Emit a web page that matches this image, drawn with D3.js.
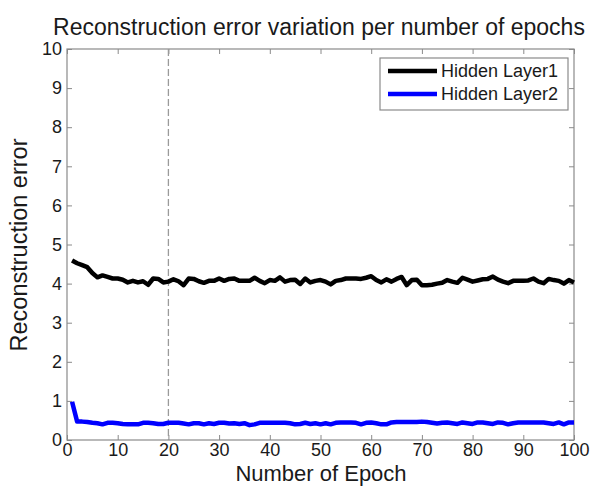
<!DOCTYPE html>
<html>
<head>
<meta charset="utf-8">
<script src="https://cdn.jsdelivr.net/npm/d3@7"></script>
<style>
  body { margin: 0; background: #fff; }
  text { font-family: "Liberation Sans", Arial, sans-serif; fill: #1a1a1a; }
</style>
</head>
<body>
<div class="graphContainer"></div>
<script>
// size of the page and the plot box
const w = 591;
const h = 486;
const m = {top: 49, right: 17, bottom: 46, left: 67};

// data
const epochs = d3.range(1, 101);
const layer1 = [
  4.59, 4.52, 4.47, 4.42, 4.27, 4.16, 4.21, 4.17, 4.13, 4.13,
  4.10, 4.03, 4.07, 4.03, 4.06, 3.97, 4.13, 4.12, 4.03, 4.05,
  4.11, 4.06, 3.96, 4.13, 4.12, 4.06, 4.02, 4.07, 4.07, 4.13,
  4.07, 4.12, 4.13, 4.07, 4.07, 4.07, 4.15, 4.07, 4.01, 4.09,
  4.07, 4.16, 4.05, 4.09, 4.10, 3.99, 4.13, 4.03, 4.07, 4.09,
  4.05, 3.98, 4.07, 4.09, 4.13, 4.13, 4.13, 4.12, 4.15, 4.19,
  4.09, 4.03, 4.11, 4.05, 4.12, 4.17, 3.96, 4.09, 4.10, 3.96,
  3.96, 3.97, 4.00, 4.02, 4.09, 4.05, 4.02, 4.15, 4.10, 4.05,
  4.08, 4.11, 4.12, 4.18, 4.10, 4.05, 4.01, 4.07, 4.07, 4.07,
  4.08, 4.13, 4.05, 4.01, 4.12, 4.09, 4.07, 4.00, 4.09, 4.03
];
const layer2 = [
  0.98, 0.47, 0.47, 0.46, 0.44, 0.43, 0.40, 0.44, 0.44, 0.43,
  0.41, 0.40, 0.40, 0.40, 0.44, 0.44, 0.43, 0.41, 0.41, 0.44,
  0.44, 0.44, 0.42, 0.40, 0.43, 0.43, 0.40, 0.43, 0.41, 0.44,
  0.44, 0.42, 0.43, 0.41, 0.43, 0.38, 0.40, 0.44, 0.44, 0.44,
  0.44, 0.44, 0.44, 0.43, 0.40, 0.41, 0.44, 0.41, 0.43, 0.40,
  0.43, 0.40, 0.44, 0.45, 0.45, 0.45, 0.44, 0.40, 0.44, 0.45,
  0.43, 0.40, 0.40, 0.45, 0.46, 0.46, 0.46, 0.46, 0.46, 0.47,
  0.46, 0.44, 0.42, 0.44, 0.45, 0.43, 0.41, 0.45, 0.43, 0.41,
  0.45, 0.45, 0.43, 0.41, 0.45, 0.44, 0.40, 0.43, 0.45, 0.45,
  0.45, 0.45, 0.45, 0.45, 0.43, 0.41, 0.45, 0.40, 0.45, 0.45
];
const seriesNames = ["Hidden Layer1", "Hidden Layer2"];
const seriesColors = ["#000000", "#0000ff"];
const xTicks = d3.range(0, 101, 10);
const yTicks = d3.range(0, 11, 1);
const markerEpoch = 20;

const svg = d3.select(".graphContainer").append("svg")
  .attr("width", w)
  .attr("height", h);

// scales
const xScale = d3.scaleLinear().domain([0, 100]).range([m.left, w - m.right]);
const yScale = d3.scaleLinear().domain([0, 10]).range([h - m.bottom, m.top]);

// box + inward ticks on every side, matlab style
const axisCol = "#8a8a8a";
const tick = 5;
function styleAxis(g) {
  g.select(".domain").remove();
  g.selectAll(".tick line").attr("stroke", axisCol);
  g.selectAll(".tick text").attr("font-size", "18px").style("font-family", "Liberation Sans, Arial, sans-serif").attr("fill", "#1a1a1a");
}

svg.append("g")
  .attr("transform", "translate(0," + (h - m.bottom) + ")")
  .call(d3.axisBottom(xScale).tickValues(xTicks).tickSize(-tick).tickPadding(3))
  .call(styleAxis);

svg.append("g")
  .attr("transform", "translate(0," + m.top + ")")
  .call(d3.axisTop(xScale).tickValues(xTicks).tickSize(-tick).tickFormat(""))
  .call(styleAxis);

svg.append("g")
  .attr("transform", "translate(" + m.left + ",0)")
  .call(d3.axisLeft(yScale).tickValues(yTicks).tickSize(-tick).tickPadding(5))
  .call(styleAxis);

svg.append("g")
  .attr("transform", "translate(" + (w - m.right) + ",0)")
  .call(d3.axisRight(yScale).tickValues(yTicks).tickSize(-tick).tickFormat(""))
  .call(styleAxis);

svg.append("rect")
  .attr("x", m.left)
  .attr("y", m.top)
  .attr("width", w - m.left - m.right)
  .attr("height", h - m.top - m.bottom)
  .attr("fill", "none")
  .attr("stroke", axisCol)
  .attr("stroke-width", 1.2);

// dashed marker at epoch 20
svg.append("line")
  .attr("x1", xScale(markerEpoch))
  .attr("x2", xScale(markerEpoch))
  .attr("y1", yScale(10))
  .attr("y2", yScale(0))
  .attr("stroke", "#9a9a9a")
  .attr("stroke-width", 1.3)
  .attr("stroke-dasharray", "7,3");

// the two curves
const line = d3.line()
  .x((d, i) => xScale(epochs[i]))
  .y(d => yScale(d));

[layer1, layer2].forEach((s, k) => {
  svg.append("path")
    .datum(s)
    .attr("d", line)
    .attr("fill", "none")
    .attr("stroke", seriesColors[k])
    .attr("stroke-width", 4.5)
    .attr("stroke-linejoin", "round");
});

// title and axis labels
svg.append("text")
  .attr("x", 319)
  .attr("y", 35)
  .attr("text-anchor", "middle")
  .attr("font-size", "23px")
  .text("Reconstruction error variation per number of epochs");

svg.append("text")
  .attr("x", 321)
  .attr("y", 481)
  .attr("text-anchor", "middle")
  .attr("font-size", "22px")
  .text("Number of Epoch");

svg.append("text")
  .attr("transform", "rotate(-90)")
  .attr("x", -245)
  .attr("y", 27)
  .attr("text-anchor", "middle")
  .attr("font-size", "23.5px")
  .text("Reconstruction error");

// legend
const lg = svg.append("g").attr("transform", "translate(380,58)");
lg.append("rect")
  .attr("width", 188)
  .attr("height", 52)
  .attr("fill", "#fff")
  .attr("stroke", axisCol)
  .attr("stroke-width", 1.2);

seriesNames.forEach((name, k) => {
  const yy = 13 + k * 23;
  lg.append("line")
    .attr("x1", 8).attr("x2", 57)
    .attr("y1", yy).attr("y2", yy)
    .attr("stroke", seriesColors[k])
    .attr("stroke-width", 4.5);
  lg.append("text")
    .attr("x", 61)
    .attr("y", yy + 6)
    .attr("font-size", "18px")
    .text(name);
});
</script>
</body>
</html>
